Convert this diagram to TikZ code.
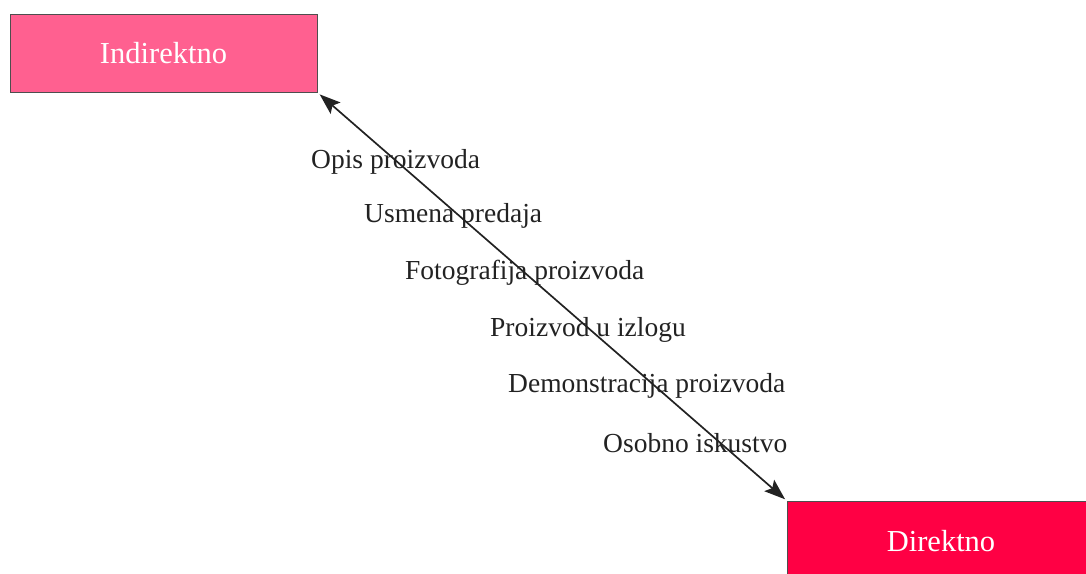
\documentclass[tikz,border=0pt]{standalone}
\usepackage{fontspec}
\setmainfont{Liberation Serif}
\usetikzlibrary{arrows.meta}
\definecolor{indpink}{RGB}{255,96,144}
\definecolor{dirred}{RGB}{255,0,68}
\definecolor{inkgray}{RGB}{34,34,34}
\begin{document}
\begin{tikzpicture}[x=1pt,y=-1pt,font=\fontsize{27.5}{32}\selectfont,
  lvl/.style={draw=inkgray!80,line width=0.8pt,text=white,font=\fontsize{30.5}{36}\selectfont,minimum width=307pt,minimum height=78pt,inner sep=0pt},
  stp/.style={anchor=base west,text=inkgray,inner sep=0pt},
  link/.style={inkgray,line width=1.7pt,{Stealth[length=21pt,width=15pt,inset=4pt]}-{Stealth[length=21pt,width=15pt,inset=4pt]}}]
  \useasboundingbox (0,0) rectangle (1086,573);
  \node[lvl,fill=indpink] (ind) at (163.5,53){Indirektno};
  \node[lvl,fill=dirred,minimum width=308pt,minimum height=80pt] (dir) at (941,541){Direktno};
  \node[stp] (s1) at (311,168){Opis proizvoda};
  \node[stp] (s2) at (364,222){Usmena predaja};
  \node[stp] (s3) at (405,279){Fotografija proizvoda};
  \node[stp] (s4) at (490,336){Proizvod u izlogu};
  \node[stp] (s5) at (508,392){Demonstracija proizvoda};
  \node[stp] (s6) at (603,452){Osobno iskustvo};
  \draw[link,shorten <=3pt,shorten >=2pt] (ind.south east) -- (dir.north west);
\end{tikzpicture}
\end{document}
